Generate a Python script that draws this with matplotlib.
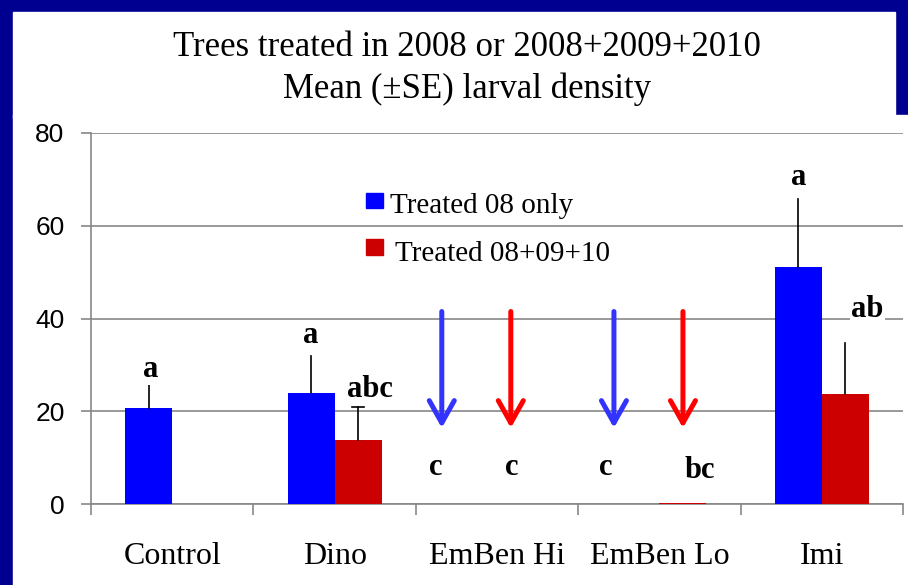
import matplotlib
matplotlib.use("Agg")
import matplotlib.pyplot as plt
from matplotlib.patches import Rectangle
import numpy as np

# data
categories = ["Control", "Dino", "EmBen Hi", "EmBen Lo", "Imi"]
mean_08 = [20.6, 24.0, 0.0, 0.0, 51.1]
se_08 = [5.6, 8.0, 0.0, 0.0, 14.6]
mean_all = [0.0, 13.8, 0.0, 0.3, 23.8]
se_all = [0.0, 7.1, 0.0, 0.0, 11.0]
letters_08 = ["a", "a", "c", "c", "a"]
letters_all = ["", "abc", "c", "bc", "ab"]
arrow_cats = [2, 3]
y_ticks = [0, 20, 40, 60, 80]

BLUE = "#0000ff"
RED = "#cc0000"
NAVY = "#000090"
GRID = "#878787"
serif = "Liberation Serif"
sans = "Liberation Sans"

fig = plt.figure(figsize=(9.08, 5.85), dpi=100, facecolor=NAVY)
W, H = 908, 585
# white slide panels
fig.patches.append(Rectangle((13 / W, 1 - 118 / H), (895 - 13) / W, (118 - 12) / H,
                             transform=fig.transFigure, color="white", zorder=-10))
fig.patches.append(Rectangle((13 / W, 0), (W - 13) / W, 1 - 115 / H,
                             transform=fig.transFigure, color="white", zorder=-10))

ax = fig.add_axes([91 / W, 1 - 504 / H, (903 - 91) / W, (504 - 133) / H])
ax.set_facecolor("none")

x = np.arange(len(categories))
w = 0.29
ax.bar(x - w / 2, mean_08, w, color=BLUE, zorder=3)
ax.bar(x + w / 2, mean_all, w, color=RED, zorder=3)

# upper-only error bars
for xi, m, s in zip(x - w / 2, mean_08, se_08):
    if s > 0:
        ax.plot([xi, xi], [m, m + s], color="black", lw=1.2, zorder=4)
for xi, m, s in zip(x + w / 2, mean_all, se_all):
    if s > 0:
        ax.plot([xi, xi], [m, m + s], color="black", lw=1.2, zorder=4)
# only the Dino 08+09+10 bar shows a cap
ax.plot([1 + w / 2 - 0.035, 1 + w / 2 + 0.035], [mean_all[1] + se_all[1]] * 2,
        color="black", lw=1.2, zorder=4)

# significance letters (placement nudges, in category / y units)
bold = dict(fontfamily=serif, fontweight="bold", fontsize=22, ha="center", va="baseline", zorder=5)
box = dict(fc="white", ec="none", pad=1)
pad_08 = [1.2, 2.7, 0, 0, 3.1]
dx_08 = [0.015, 0.0, 0, 0, 0.0]
pad_all = [0, 2.2, 0, 0, 5.6]
dx_all = [0, 0.075, 0, 0, 0.135]
for i in range(len(categories)):
    if se_08[i] > 0:
        ax.text(i - w / 2 + dx_08[i], mean_08[i] + se_08[i] + pad_08[i], letters_08[i], bbox=box, **bold)
    if se_all[i] > 0:
        ax.text(i + w / 2 + dx_all[i], mean_all[i] + se_all[i] + pad_all[i], letters_all[i], bbox=box, **bold)
# letters for the EmBen groups sit low
ax.text(2 - 0.38, 6.2, letters_08[2], **bold)
ax.text(2 + 0.09, 6.2, letters_all[2], **bold)
ax.text(3 - 0.33, 6.2, letters_08[3], **bold)
ax.text(3 + 0.25, 5.6, letters_all[3], **bold)

# arrows over the EmBen groups
arrow_dx = {(2, "b"): -0.34, (2, "r"): 0.085, (3, "b"): -0.28, (3, "r"): 0.145}
for c in arrow_cats:
    for key, col in (("b", "#3333ff"), ("r", "#ff0000")):
        xa = c + arrow_dx[(c, key)]
        ax.annotate("", xy=(xa, 16.4), xytext=(xa, 41.5),
                    arrowprops=dict(arrowstyle="->,head_length=1.6,head_width=0.9",
                                    color=col, lw=3.6, shrinkA=0, shrinkB=0,
                                    capstyle="round", joinstyle="round"), zorder=4)

ax.set_xlim(-0.5, 4.5)
ax.set_ylim(0, 80)
ax.set_yticks(y_ticks)
ax.set_yticklabels([str(v) for v in y_ticks], fontfamily=sans, fontsize=19)
ax.set_xticks(np.arange(-0.5, 5, 1))
ax.set_xticklabels([])
ax.set_xticks(x, minor=True)
ax.set_xticklabels(categories, minor=True, fontfamily=serif, fontsize=23)
ax.tick_params(axis="x", which="major", length=8, width=1.2, color=GRID, direction="out")
ax.tick_params(axis="x", which="minor", length=0, pad=27)
ax.tick_params(axis="y", length=7, width=1.2, color=GRID, pad=12)
ax.grid(axis="y", color=GRID, lw=1.2, zorder=0)
ax.set_axisbelow(True)
for sp in ("top", "right"):
    ax.spines[sp].set_visible(False)
for sp in ("left", "bottom"):
    ax.spines[sp].set_color(GRID)
    ax.spines[sp].set_linewidth(1.2)

# legend drawn as text with squares
ax.add_patch(Rectangle((1.195, 63.8), 0.1, 3.3, color=BLUE, zorder=5))
ax.add_patch(Rectangle((1.195, 53.7), 0.1, 3.5, color=RED, zorder=5))
ax.text(1.34, 62.7, "Treated 08 only", fontfamily=serif, fontsize=21, va="baseline", zorder=5)
ax.text(1.37, 52.4, "Treated 08+09+10", fontfamily=serif, fontsize=21, va="baseline", zorder=5)

fig.text(467 / W, 1 - 56 / H, "Trees treated in 2008 or 2008+2009+2010",
         fontfamily=serif, fontsize=25, ha="center", va="baseline")
fig.text(467 / W, 1 - 98 / H, "Mean (\u00b1SE) larval density",
         fontfamily=serif, fontsize=25, ha="center", va="baseline")

fig.savefig("out.png", dpi=100, facecolor=NAVY)
